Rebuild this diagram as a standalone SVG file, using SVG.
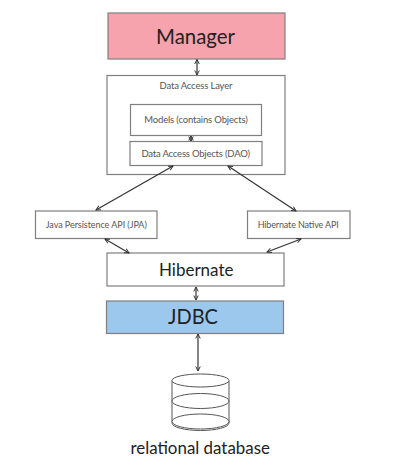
<svg xmlns="http://www.w3.org/2000/svg" width="401" height="466" viewBox="0 0 401 466">
<style>
.b{stroke:#7f7f7f;stroke-width:1.2;fill:#fff}
.t{font-family:Lato,"Liberation Sans",sans-serif;fill:#555;font-size:9.500px;text-anchor:middle}
.l{font-family:Lato,"Liberation Sans",sans-serif;fill:#222;text-anchor:middle}
.c line{stroke:#333;stroke-width:1.2;marker-start:url(#a);marker-end:url(#a)}
.d{fill:#fff;stroke:#555;stroke-width:1}
</style>
<defs><marker id="a" viewBox="0 0 8 8" refX="7" refY="4" markerWidth="6" markerHeight="6" markerUnits="userSpaceOnUse" orient="auto-start-reverse"><path d="M1 1L7 4L1 7" fill="none" stroke="#333" stroke-width="1.3"/></marker></defs>
<rect width="401" height="466" fill="#fff"/>
<g id="manager"><rect class="b" x="108" y="13" width="177" height="46" style="fill:#f7a3ae"/><text class="l" x="195.500" y="44" font-size="22" textLength="79" lengthAdjust="spacingAndGlyphs">Manager</text></g>
<g id="dal"><rect class="b" x="107" y="75.500" width="178" height="99"/><text class="t" x="196" y="88.500" textLength="73">Data Access Layer</text></g>
<g id="models"><rect class="b" x="130.500" y="104.500" width="131" height="31"/><text class="t" x="196" y="122.500" textLength="103.500">Models (contains Objects)</text></g>
<g id="dao"><rect class="b" x="130" y="141.500" width="132" height="24"/><text class="t" x="195.700" y="156.500" textLength="108.500">Data Access Objects (DAO)</text></g>
<g id="jpa"><rect class="b" x="35.500" y="211" width="121.500" height="27.500"/><text class="t" x="96.300" y="227.500" textLength="101" style="font-size:9px">Java Persistence API (JPA)</text></g>
<g id="native"><rect class="b" x="247.500" y="211" width="102.500" height="27.500"/><text class="t" x="298.200" y="227.500" textLength="81" style="font-size:9px">Hibernate Native API</text></g>
<g id="hibernate"><rect class="b" x="107" y="253" width="177" height="33"/><text class="l" x="196.200" y="276" font-size="18" textLength="74.500" lengthAdjust="spacingAndGlyphs">Hibernate</text></g>
<g id="jdbc"><rect class="b" x="106.500" y="301" width="177" height="32.500" style="fill:#9dc8ee"/><text class="l" x="193" y="324" font-size="22" textLength="50" lengthAdjust="spacingAndGlyphs">JDBC</text></g>
<g id="database"><path class="d" d="M172 381V423A28.500 7.500 0 0 0 229 423V381"/><ellipse class="d" cx="200.500" cy="421.500" rx="28.500" ry="7.500"/><ellipse class="d" cx="200.500" cy="401" rx="28.500" ry="7.500"/><ellipse class="d" cx="200.500" cy="380.500" rx="28.500" ry="6.500"/><text class="l" x="200.200" y="454" font-size="17" textLength="139.500" lengthAdjust="spacingAndGlyphs">relational database</text></g>
<g id="connectors" class="c">
<line x1="197" y1="59.500" x2="197" y2="75"/>
<line x1="191" y1="136" x2="191" y2="141"/>
<line x1="173" y1="166" x2="96" y2="210"/>
<line x1="228" y1="166" x2="296" y2="211"/>
<line x1="105" y1="239" x2="129" y2="253"/>
<line x1="301" y1="239" x2="267" y2="252"/>
<line x1="196" y1="287" x2="196" y2="300"/>
<line x1="198" y1="334" x2="198" y2="371"/>
</g>
</svg>
